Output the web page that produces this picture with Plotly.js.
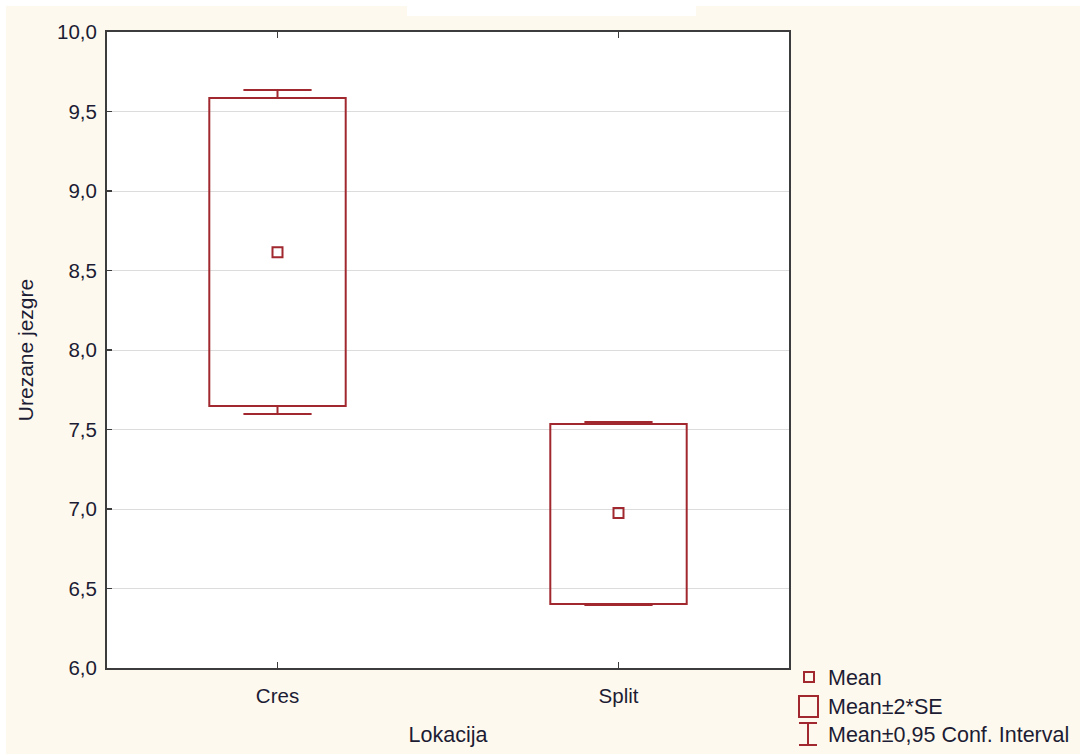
<!DOCTYPE html>
<html>
<head>
<meta charset="utf-8">
<script src="https://cdn.plot.ly/plotly-3.0.1.min.js"></script>
<style>
  html, body { margin: 0; padding: 0; background: #ffffff; }
  #chart { width: 1080px; height: 754px; }
</style>
</head>
<body>
<div id="chart"></div>
<script>
// Urezane jezgre by location: mean, mean±2*SE box, mean±0,95 confidence interval
const locations = ["Cres", "Split"];
const means     = [8.615, 6.975];
const seLow     = [7.648, 6.403];   // mean - 2*SE
const seHigh    = [9.585, 7.535];   // mean + 2*SE
const ciLow     = [7.597, 6.396];   // lower 0,95 confidence limit
const ciHigh    = [9.635, 7.547];   // upper 0,95 confidence limit

const red = "#a0282e";
const textColor = "#1c1c34";
const fontFamily = "Liberation Sans, Arial, sans-serif";

const boxWidth = 0.4;
const capHalf = 0.1;

// Mean±2*SE boxes as floating bars
const boxTrace = {
  type: "bar",
  x: locations.map((_, i) => i),
  y: seHigh.map((h, i) => h - seLow[i]),
  base: seLow,
  width: boxWidth,
  marker: { color: "rgba(255,255,255,0)", line: { color: red, width: 2 } },
  hoverinfo: "skip",
  showlegend: false
};

// Confidence interval whiskers with caps
const wx = [], wy = [];
locations.forEach((_, i) => {
  wx.push(i, i, null, i - capHalf, i + capHalf, null);
  wy.push(seHigh[i], ciHigh[i], null, ciHigh[i], ciHigh[i], null);
  wx.push(i, i, null, i - capHalf, i + capHalf, null);
  wy.push(seLow[i], ciLow[i], null, ciLow[i], ciLow[i], null);
});
const whiskerTrace = {
  type: "scatter", mode: "lines",
  x: wx, y: wy,
  line: { color: red, width: 2 },
  hoverinfo: "skip", showlegend: false
};

// Mean markers
const meanTrace = {
  type: "scatter", mode: "markers",
  x: locations.map((_, i) => i),
  y: means,
  marker: { symbol: "square-open", size: 10, color: red, line: { width: 2, color: red } },
  showlegend: false
};

// pixel -> paper helpers for the plot area (107..789 x 32..668)
const L = 107, R = 789, T = 32, B = 668;
const px = v => (v - L) / (R - L);
const py = v => (B - v) / (B - T);

const shapes = [
  // white margins of the page
  { type: "rect", xref: "paper", yref: "paper", x0: px(0), x1: px(6), y0: py(760), y1: py(0),
    fillcolor: "#ffffff", line: { width: 0 } },
  { type: "rect", xref: "paper", yref: "paper", x0: px(0), x1: px(1080), y0: py(6), y1: py(0),
    fillcolor: "#ffffff", line: { width: 0 } },
  { type: "rect", xref: "paper", yref: "paper", x0: px(407), x1: px(696), y0: py(16), y1: py(0),
    fillcolor: "#ffffff", line: { width: 0 } },
  // legend symbols
  { type: "rect", xref: "paper", yref: "paper", x0: px(804), x1: px(814), y0: py(682), y1: py(672),
    fillcolor: "rgba(0,0,0,0)", line: { color: red, width: 2 } },
  { type: "rect", xref: "paper", yref: "paper", x0: px(799), x1: px(818), y0: py(717), y1: py(696),
    fillcolor: "rgba(0,0,0,0)", line: { color: red, width: 2 } },
  { type: "line", xref: "paper", yref: "paper", x0: px(808), x1: px(808), y0: py(745), y1: py(723),
    line: { color: red, width: 2 } },
  { type: "line", xref: "paper", yref: "paper", x0: px(799), x1: px(817), y0: py(723), y1: py(723),
    line: { color: red, width: 2 } },
  { type: "line", xref: "paper", yref: "paper", x0: px(799), x1: px(817), y0: py(745), y1: py(745),
    line: { color: red, width: 2 } }
];

const legendItems = ["Mean", "Mean±2*SE", "Mean±0,95 Conf. Interval"];
const legendY = [678, 707, 735];
const annotations = legendItems.map((t, i) => ({
  xref: "paper", yref: "paper", x: px(826), y: py(legendY[i]),
  xanchor: "left", yanchor: "middle", showarrow: false, text: t,
  font: { family: fontFamily, size: 21.5, color: textColor }
}));

const layout = {
  width: 1080, height: 754,
  margin: { l: L, r: 1080 - R, t: T, b: 754 - B, pad: 0 },
  paper_bgcolor: "#fef9ee",
  plot_bgcolor: "#ffffff",
  separators: ", ",
  showlegend: false,
  font: { family: fontFamily, size: 20.5, color: textColor },
  xaxis: {
    range: [-0.5, 1.5],
    tickmode: "array", tickvals: [0, 1], ticktext: locations,
    ticks: "inside", ticklen: 6, tickwidth: 1.5, tickcolor: "#3c3c3c",
    showline: true, linecolor: "#3c3c3c", linewidth: 2, mirror: "ticks",
    showgrid: false, zeroline: false,
    ticklabelstandoff: 8,
    title: { text: "Lokacija", font: { size: 21.5, color: textColor }, standoff: 21 }
  },
  yaxis: {
    range: [6, 10],
    tickvals: [6, 6.5, 7, 7.5, 8, 8.5, 9, 9.5, 10],
    tickformat: ".1f",
    ticks: "inside", ticklen: 5, tickwidth: 1.5, tickcolor: "#3c3c3c",
    showline: true, linecolor: "#3c3c3c", linewidth: 2, mirror: true,
    showgrid: true, gridcolor: "#dcdcdc", gridwidth: 1, zeroline: false,
    ticklabelstandoff: 4,
    title: { text: "Urezane jezgre", font: { size: 21, color: textColor }, standoff: 18 }
  },
  shapes: shapes,
  annotations: annotations
};

Plotly.newPlot("chart", [boxTrace, whiskerTrace, meanTrace], layout,
  { staticPlot: true, displayModeBar: false });
</script>
</body>
</html>
